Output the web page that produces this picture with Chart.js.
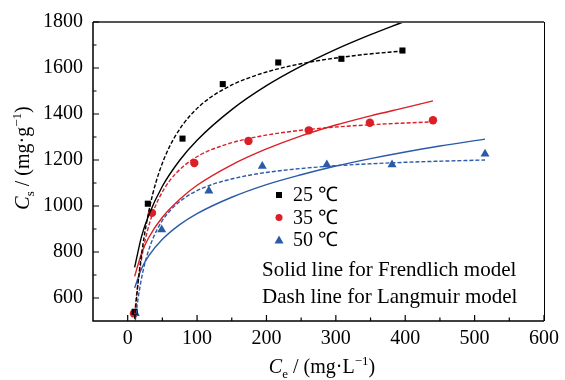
<!DOCTYPE html>
<html>
<head>
<meta charset="utf-8">
<script src="https://cdn.jsdelivr.net/npm/chart.js@4.4.1/dist/chart.umd.min.js"></script>
<style>
  html, body { margin: 0; padding: 0; background: #fff; }
  canvas { display: block; }
</style>
</head>
<body>
<canvas id="chart" width="565" height="380"></canvas>
<script>
// axis ticks
const xTicks = [0, 100, 200, 300, 400, 500, 600];
const yTicks = [600, 800, 1000, 1200, 1400, 1600, 1800];
const xMinor = [50, 150, 250, 350, 450, 550];
const yMinor = [700, 900, 1100, 1300, 1500, 1700];

// measured points
const ce25 = [10, 29, 79, 137, 217, 308, 396];
const cs25 = [540, 1010, 1293, 1530, 1624, 1640, 1676];
const ce35 = [9, 35, 96, 174, 261, 349, 440];
const cs35 = [533, 970, 1187, 1283, 1329, 1362, 1373];
const ce50 = [11, 49, 117, 194, 287, 381, 515];
const cs50 = [533, 897, 1066, 1173, 1180, 1180, 1226];

// Freundlich fits (solid)
const fCe25 = [10, 20, 30, 50, 75, 100, 150, 200, 250, 300, 350, 396];
const fCs25 = [733, 868, 958, 1086, 1199, 1286, 1419, 1523, 1608, 1681, 1745, 1799];
const fCe35 = [10, 20, 30, 50, 75, 100, 150, 200, 250, 300, 350, 400, 440];
const fCs35 = [694, 795, 861, 951, 1029, 1090, 1179, 1248, 1305, 1352, 1392, 1428, 1457];
const fCe50 = [10, 20, 30, 50, 75, 100, 150, 200, 250, 300, 350, 400, 450, 515];
const fCs50 = [644, 728, 782, 855, 919, 967, 1038, 1093, 1136, 1174, 1206, 1235, 1261, 1291];

// Langmuir fits (dashed)
const lCe25 = [10, 12, 16, 21, 28, 36, 46, 60, 80, 105, 135, 170, 215, 265, 330, 396];
const lCs25 = [509, 577, 695, 813, 940, 1051, 1153, 1256, 1356, 1438, 1502, 1552, 1595, 1627, 1655, 1674];
const lCe35 = [10, 13, 17, 22, 28, 36, 46, 60, 80, 105, 140, 180, 230, 290, 360, 440];
const lCs35 = [530, 619, 714, 805, 887, 968, 1039, 1108, 1172, 1223, 1266, 1297, 1322, 1341, 1355, 1366];
const lCe50 = [11, 12, 15, 19, 24, 30, 38, 48, 62, 80, 105, 140, 185, 240, 310, 400, 515];
const lCs50 = [503, 530, 598, 671, 742, 806, 870, 928, 983, 1031, 1074, 1110, 1139, 1160, 1177, 1190, 1200];

const legendLabels = ['25 \u2103', '35 \u2103', '50 \u2103'];
const noteLines = ['Solid line for Frendlich model', 'Dash line for Langmuir model'];

const BLACK = '#000000';
const RED = '#dc1f26';
const BLUE = '#2b5aa8';
const SERIF = "'Liberation Serif', 'Times New Roman', serif";

const pts = (xs, ys) => xs.map((x, i) => ({ x: x, y: ys[i] }));

function curve(xs, ys, color, dashed) {
    return {
        data: pts(xs, ys),
        showLine: true,
        borderColor: color,
        borderWidth: 1.4,
        borderDash: dashed ? [4, 2] : [],
        pointRadius: 0,
        cubicInterpolationMode: 'monotone',
        fill: false
    };
}

function marks(xs, ys, color, style, r) {
    return {
        data: pts(xs, ys),
        showLine: false,
        pointStyle: style,
        pointRadius: r,
        pointBackgroundColor: color,
        pointBorderColor: color,
        pointBorderWidth: 0
    };
}

// text with italic / sub / sup parts, centred on (0, 0) baseline
function drawRich(ctx, segs, size) {
    const parts = segs.map(s => {
        const fs = (s.sub || s.sup) ? size * 0.65 : size;
        const font = (s.it ? 'italic ' : '') + fs + 'px ' + SERIF;
        ctx.font = font;
        return { t: s.t, font: font, w: ctx.measureText(s.t).width, dy: s.sub ? size * 0.25 : (s.sup ? -size * 0.4 : 0) };
    });
    const total = parts.reduce((a, p) => a + p.w, 0);
    let x = -total / 2;
    ctx.textAlign = 'left';
    ctx.textBaseline = 'alphabetic';
    parts.forEach(p => {
        ctx.font = p.font;
        ctx.fillText(p.t, x, p.dy);
        x += p.w;
    });
}

const decorPlugin = {
    id: 'decor',
    afterDraw(chart) {
        const ctx = chart.ctx;
        const a = chart.chartArea;
        const xs = chart.scales.x, ys = chart.scales.y;
        ctx.save();

        // frame
        ctx.strokeStyle = '#555';
        ctx.lineWidth = 2;
        ctx.beginPath();
        ctx.moveTo(a.left, a.top);
        ctx.lineTo(a.right, a.top);
        ctx.stroke();
        ctx.strokeStyle = BLACK;
        ctx.lineWidth = 1.5;
        ctx.beginPath();
        ctx.moveTo(a.left, a.top);
        ctx.lineTo(a.left, a.bottom);
        ctx.lineTo(a.right, a.bottom);
        ctx.stroke();
        ctx.lineWidth = 1;
        ctx.beginPath();
        ctx.moveTo(a.right + 0.5, a.top);
        ctx.lineTo(a.right + 0.5, a.bottom);
        ctx.stroke();

        // inward ticks
        ctx.lineWidth = 1.2;
        ctx.beginPath();
        xTicks.forEach(v => { const p = xs.getPixelForValue(v); ctx.moveTo(p, a.bottom); ctx.lineTo(p, a.bottom - 6); });
        xMinor.forEach(v => { const p = xs.getPixelForValue(v); ctx.moveTo(p, a.bottom); ctx.lineTo(p, a.bottom - 3.5); });
        yTicks.forEach(v => { const p = ys.getPixelForValue(v); ctx.moveTo(a.left, p); ctx.lineTo(a.left + 6, p); });
        yMinor.forEach(v => { const p = ys.getPixelForValue(v); ctx.moveTo(a.left, p); ctx.lineTo(a.left + 3.5, p); });
        ctx.stroke();

        // axis titles
        ctx.fillStyle = BLACK;
        ctx.save();
        ctx.translate(322, 373);
        drawRich(ctx, [{ t: 'C', it: true }, { t: 'e', sub: true }, { t: ' / (mg\u00b7L' }, { t: '\u22121', sup: true }, { t: ')' }], 20);
        ctx.restore();
        ctx.save();
        ctx.translate(29, 158);
        ctx.rotate(-Math.PI / 2);
        drawRich(ctx, [{ t: 'C', it: true }, { t: 's', sub: true }, { t: ' / (mg\u00b7g' }, { t: '\u22121', sup: true }, { t: ')' }], 20);
        ctx.restore();

        // legend
        const colors = [BLACK, RED, BLUE];
        ctx.font = '20px ' + SERIF;
        ctx.textAlign = 'left';
        ctx.textBaseline = 'middle';
        legendLabels.forEach((lab, i) => {
            const cy = 195 + i * 22.5, cx = 279;
            ctx.fillStyle = colors[i];
            ctx.beginPath();
            if (i === 0) ctx.rect(cx - 3, cy - 3, 6, 6);
            else if (i === 1) ctx.arc(cx, cy, 3.5, 0, Math.PI * 2);
            else { ctx.moveTo(cx, cy - 4.5); ctx.lineTo(cx + 4.5, cy + 3.5); ctx.lineTo(cx - 4.5, cy + 3.5); ctx.closePath(); }
            ctx.fill();
            ctx.fillStyle = BLACK;
            ctx.fillText(lab, 293, cy + 1);
        });
        ctx.font = '21px ' + SERIF;
        noteLines.forEach((t, i) => ctx.fillText(t, 262, 270 + i * 27));

        ctx.restore();
    }
};

new Chart(document.getElementById('chart'), {
    type: 'scatter',
    data: {
        datasets: [
            curve(fCe25, fCs25, BLACK, false),
            curve(lCe25, lCs25, BLACK, true),
            curve(fCe35, fCs35, RED, false),
            curve(lCe35, lCs35, RED, true),
            curve(fCe50, fCs50, BLUE, false),
            curve(lCe50, lCs50, BLUE, true),
            marks(ce25, cs25, BLACK, 'rect', 4.3),
            marks(ce35, cs35, RED, 'circle', 4.2),
            marks(ce50, cs50, BLUE, 'triangle', 5.2)
        ]
    },
    plugins: [decorPlugin],
    options: {
        responsive: false,
        animation: false,
        devicePixelRatio: 1,
        layout: { padding: { left: 0, top: 17, right: 19, bottom: 0 } },
        plugins: { legend: { display: false }, tooltip: { enabled: false } },
        scales: {
            x: {
                type: 'linear',
                min: -50,
                max: 600,
                grid: { display: false, drawTicks: false },
                border: { display: false },
                afterBuildTicks: s => { s.ticks = xTicks.map(v => ({ value: v })); },
                afterFit: s => { s.height = 59; },
                ticks: { color: BLACK, padding: 6, maxRotation: 0, font: { family: SERIF, size: 20 }, callback: v => String(v) }
            },
            y: {
                type: 'linear',
                min: 500,
                max: 1800,
                grid: { display: false, drawTicks: false },
                border: { display: false },
                afterBuildTicks: s => { s.ticks = yTicks.map(v => ({ value: v })); },
                afterFit: s => { s.width = 93; },
                ticks: { color: BLACK, padding: 10, font: { family: SERIF, size: 20 }, callback: v => String(v) }
            }
        }
    }
});
</script>
</body>
</html>
